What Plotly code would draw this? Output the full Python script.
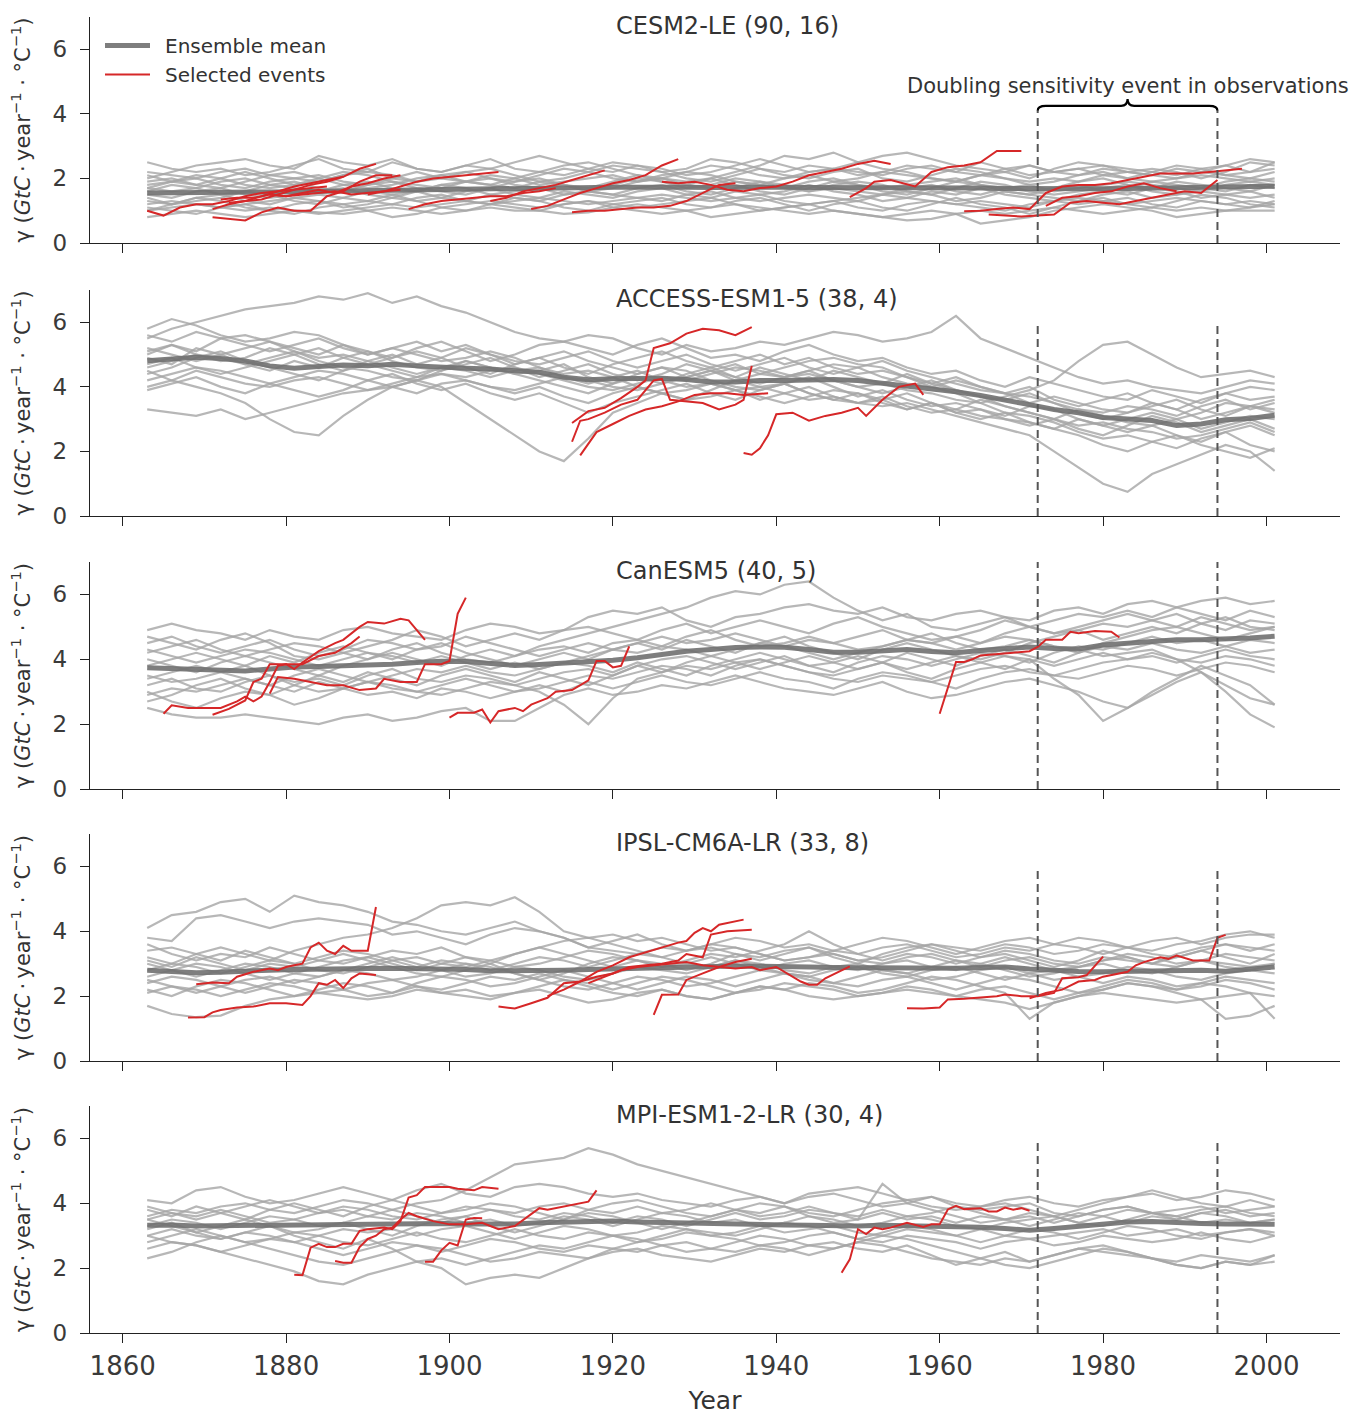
import plotly.graph_objects as go

# ---------------- data ----------------
years = list(range(1863, 2002, 3))  # sampling grid of the ensemble members

models = ["CESM2-LE", "ACCESS-ESM1-5", "CanESM5", "IPSL-CM6A-LR", "MPI-ESM1-2-LR"]
n_members = [90, 38, 40, 33, 30]
n_events = [16, 4, 5, 8, 4]
obs_event = [1972, 1994]
x_ticks = [1860, 1880, 1900, 1920, 1940, 1960, 1980, 2000]
y_ticks = [0, 2, 4, 6]

# ---- CESM2-LE ----
cesm_mean = [1.55,1.55,1.56,1.56,1.57,1.58,1.59,1.60,1.62,1.63, 1.65,1.66,1.68,1.70,1.71,1.72,1.72,1.71,1.72,1.73,
             1.73,1.74,1.73,1.72,1.73,1.74,1.73,1.72,1.72,1.73, 1.72,1.71,1.72,1.72,1.70,1.69,1.68,1.68,1.67,1.68,
             1.69,1.70,1.71,1.70,1.71,1.73,1.76]
cesm_members = [
    [2.5,2.3,2.2,2.3,2.1,2.2,2.4,2.6,2.3,2.2, 2.5,2.3,2.2,2.4,2.6,2.3,2.2,2.1,2.3,2.5, 2.4,2.2,2.3,2.6,2.5,2.3,2.2,2.4,2.3,2.1, 2.2,2.4,2.3,2.2,2.5,2.3,2.1,2.2,2.3,2.1, 2.2,2.3,2.2,2.0,2.2,2.5,2.4],
    [0.8,0.9,1.0,0.9,0.8,0.9,1.0,0.95,0.9,1.0, 1.1,1.0,0.9,1.0,1.1,1.0,1.0,0.9,0.95,1.1, 1.2,1.1,1.0,1.1,1.2,1.1,1.0,0.9,1.0,0.9, 0.8,0.7,0.75,0.9,1.0,0.9,1.0,1.1,1.0,0.9, 1.0,1.1,1.0,1.1,1.0,1.0,1.0],
    [2.2,2.1,2.0,2.2,2.3,2.1,2.0,1.9,2.1,2.3, 2.0,1.9,2.1,2.2,2.0,1.9,2.1,2.3,2.2,2.0, 1.9,2.1,2.2,2.4,2.3,2.1,2.0,2.2,2.3,2.5, 2.7,2.8,2.6,2.4,2.3,2.2,2.4,2.2,2.1,2.3, 2.2,2.1,2.3,2.2,2.1,2.2,2.3],
    [1.2,1.3,1.2,1.1,1.2,1.3,1.4,1.3,1.2,1.3, 1.2,1.4,1.5,1.3,1.2,1.3,1.4,1.3,1.2,1.3, 1.4,1.5,1.4,1.3,1.4,1.5,1.3,1.2,1.3,1.4, 1.5,1.4,1.3,1.2,1.3,1.2,1.1,1.3,1.4,1.3, 1.2,1.3,1.4,1.3,1.2,1.3,1.2],
    [1.8,1.9,2.0,1.8,1.7,1.9,2.0,2.1,1.9,1.8, 2.0,2.2,2.0,1.9,2.1,2.0,1.8,1.9,2.0,2.1, 1.9,2.0,2.2,2.1,1.9,1.8,2.0,2.1,1.9,2.0, 2.2,2.1,2.0,1.9,2.1,2.0,1.9,2.0,1.9,2.1, 2.0,1.9,2.0,2.1,2.0,1.9,2.0],
    [1.5,1.4,1.6,1.7,1.5,1.4,1.5,1.6,1.7,1.5, 1.4,1.6,1.8,1.7,1.5,1.6,1.7,1.8,1.6,1.5, 1.7,1.8,1.6,1.5,1.7,1.9,1.8,1.6,1.7,1.6, 1.5,1.7,1.8,1.6,1.5,1.7,1.6,1.5,1.6,1.7, 1.8,1.6,1.5,1.7,1.6,1.8,1.7],
    [1.0,1.1,1.2,1.1,1.0,1.1,1.0,0.9,1.0,1.1, 1.2,1.1,1.2,1.3,1.2,1.1,1.0,1.2,1.3,1.1, 1.0,0.9,1.0,0.8,0.9,1.0,1.1,1.2,1.0,0.9, 0.8,0.9,1.0,0.9,0.6,0.7,0.8,1.0,1.1,1.2, 1.1,1.0,0.8,0.9,1.0,1.1,1.2],
    [1.9,2.0,1.8,1.7,1.9,2.1,2.2,2.0,1.8,1.7, 1.8,2.0,2.1,1.9,1.8,2.0,2.2,2.4,2.5,2.3, 2.1,2.0,1.9,2.0,2.2,2.4,2.7,2.6,2.8,2.5, 2.3,2.2,2.0,1.9,2.1,2.2,2.0,2.3,2.5,2.4, 2.2,2.1,2.0,2.2,2.4,2.2,2.5],
    [1.3,1.2,1.4,1.5,1.3,1.2,1.4,1.5,1.4,1.3, 1.5,1.6,1.4,1.3,1.5,1.4,1.3,1.5,1.6,1.5, 1.4,1.3,1.5,1.6,1.4,1.3,1.4,1.5,1.4,1.3, 1.5,1.6,1.5,1.3,1.4,1.6,1.5,1.4,1.3,1.5, 1.6,1.4,1.5,1.6,1.5,1.4,1.5],
    [1.7,1.6,1.7,1.9,2.0,1.8,1.7,1.6,1.8,1.9, 1.7,1.6,1.8,1.9,1.8,1.7,1.9,1.8,1.6,1.7, 1.9,2.0,1.8,1.7,1.9,1.8,1.7,1.9,2.0,1.8, 1.7,1.8,1.9,2.0,1.8,1.7,1.8,1.6,1.7,1.8, 1.9,1.8,1.7,1.6,1.8,1.9,1.8],
    [2.0,2.2,2.4,2.5,2.6,2.4,2.3,2.7,2.5,2.4, 2.6,2.3,2.2,2.4,2.3,2.5,2.7,2.5,2.3,2.2, 2.4,2.3,2.1,2.2,2.4,2.6,2.4,2.2,2.3,2.2, 2.1,2.3,2.4,2.2,2.1,2.3,2.4,2.2,2.3,2.4, 2.3,2.2,2.1,2.3,2.4,2.6,2.5],
    [1.1,1.0,0.9,1.1,1.2,1.0,0.9,1.1,1.2,1.0, 0.8,0.9,1.1,1.2,1.3,1.2,1.1,1.2,1.3,1.2, 1.1,1.2,1.3,1.4,1.2,1.0,1.1,1.2,1.3,1.1, 1.0,1.2,1.3,1.2,1.1,1.0,1.2,1.3,1.2,1.3, 1.4,1.2,1.1,1.3,1.2,1.1,1.3],
    [1.6,1.8,1.7,1.5,1.6,1.8,1.9,1.7,1.6,1.8, 1.9,1.7,1.6,1.5,1.7,1.9,2.0,1.8,1.7,1.9, 2.1,1.9,1.7,1.8,2.0,1.9,1.7,1.6,1.8,1.9, 1.8,1.6,1.5,1.7,1.9,1.8,1.6,1.7,1.9,2.0, 1.8,1.7,1.9,1.8,1.7,1.6,1.8],
    [1.4,1.2,1.3,1.4,1.6,1.5,1.3,1.2,1.4,1.6, 1.5,1.3,1.4,1.6,1.7,1.5,1.4,1.6,1.5,1.4, 1.6,1.7,1.5,1.4,1.6,1.5,1.6,1.8,1.6,1.5, 1.3,1.4,1.6,1.5,1.7,1.5,1.4,1.3,1.5,1.6, 1.5,1.7,1.6,1.4,1.5,1.6,1.4],
    [2.1,1.9,1.8,2.0,2.2,2.0,1.8,1.9,2.1,2.2, 2.1,1.9,2.0,2.2,2.3,2.1,1.9,2.0,2.2,2.4, 2.3,2.2,2.0,1.9,2.1,2.3,2.1,2.0,2.2,2.3, 2.0,1.9,2.1,2.3,2.2,2.0,1.8,1.9,2.1,2.2, 2.0,2.2,2.4,2.3,2.1,2.0,2.2],
    [1.0,1.2,1.4,1.3,1.1,1.0,1.2,1.3,1.1,1.2, 1.4,1.3,1.1,1.0,1.2,1.4,1.3,1.1,1.0,1.2, 1.3,1.4,1.2,1.1,1.3,1.4,1.2,1.0,1.2,1.3, 1.1,1.0,1.2,1.4,1.2,1.1,0.9,1.1,1.3,1.4, 1.2,1.1,1.3,1.5,1.4,1.2,1.1],
    [1.7,1.9,2.1,2.0,1.8,1.7,1.8,2.0,2.2,2.1, 1.9,1.8,1.7,1.9,2.0,1.8,1.7,1.5,1.6,1.8, 2.0,1.9,1.8,2.0,1.8,1.6,1.5,1.7,1.9,1.8, 1.6,1.5,1.7,1.9,1.8,1.6,1.5,1.7,1.8,1.6, 1.7,1.9,1.8,1.7,1.9,2.0,1.9],
]
cesm_ev_x = [
    [1863,1865,1867,1869,1871,1873,1875,1877,1879,1881,1883,1885],
    [1871,1873,1875,1877,1879,1881,1883,1885,1887,1889,1891,1893],
    [1871,1873,1875,1877,1879,1881,1883,1885,1887],
    [1873,1875,1877,1879,1881,1883,1885,1887,1889,1891],
    [1872,1874,1876,1878,1880,1882,1884,1886,1888,1890,1892,1894],
    [1878,1880,1882,1884,1886,1888,1890,1892,1894],
    [1890,1892,1894,1896,1898,1900,1902,1904,1906],
    [1895,1897,1899,1901,1903,1905,1907,1909,1911,1913],
    [1905,1907,1909,1911,1913,1915,1917,1919],
    [1910,1912,1914,1916,1918,1920,1922,1924,1926,1928],
    [1915,1917,1919,1921,1923,1925,1927,1929,1931,1933,1935],
    [1926,1928,1930,1932,1934,1936,1938,1940,1942,1944,1946,1948,1950,1952,1954],
    [1949,1951,1952,1954,1957,1959,1961,1963,1965,1967,1970],
    [1963,1965,1967,1969,1971,1973,1975,1977,1979,1981,1983,1985,1987,1989,1991,1993,1995,1997],
    [1966,1968,1970,1972,1974,1976,1978,1980,1982,1984,1986,1988,1990,1992,1994],
    [1973,1975,1977,1979,1981,1983,1985,1987,1989],
]
cesm_ev_y = [
    [1.0,0.85,1.1,1.2,1.2,1.3,1.45,1.55,1.6,1.65,1.7,1.75],
    [0.8,0.75,0.7,0.95,1.1,1.0,1.0,1.45,1.6,1.9,2.1,2.1],
    [1.05,1.2,1.3,1.45,1.6,1.75,1.85,1.95,2.05],
    [1.25,1.3,1.35,1.5,1.65,1.8,1.9,2.05,2.3,2.45],
    [1.35,1.4,1.4,1.5,1.45,1.5,1.55,1.6,1.5,1.55,1.6,1.65],
    [1.5,1.45,1.55,1.65,1.55,1.75,1.85,2.0,2.1],
    [1.5,1.6,1.75,1.9,2.0,2.05,2.1,2.15,2.2],
    [1.05,1.2,1.3,1.35,1.4,1.45,1.45,1.55,1.6,1.7],
    [1.3,1.4,1.6,1.7,1.8,1.95,2.1,2.25],
    [1.05,1.15,1.35,1.55,1.7,1.85,1.95,2.1,2.4,2.6],
    [0.95,1.0,1.0,1.05,1.1,1.1,1.15,1.3,1.55,1.8,1.85],
    [1.9,1.85,1.9,1.8,1.65,1.6,1.7,1.75,1.9,2.1,2.2,2.3,2.45,2.55,2.45],
    [1.42,1.7,1.9,1.95,1.75,2.2,2.35,2.4,2.5,2.85,2.85],
    [0.98,1.0,1.05,1.1,1.05,1.55,1.75,1.8,1.8,1.85,1.95,2.05,2.15,2.15,2.15,2.2,2.25,2.3],
    [0.88,0.85,0.82,0.85,0.88,1.25,1.3,1.25,1.2,1.3,1.4,1.5,1.6,1.55,1.95],
    [1.15,1.4,1.45,1.55,1.6,1.75,1.85,1.7,1.6],
]

# ---- ACCESS-ESM1-5 ----
access_mean = [4.81,4.85,4.92,4.88,4.8,4.65,4.58,4.63,4.68,4.65, 4.7,4.65,4.6,4.58,4.55,4.5,4.45,4.3,4.22,4.25,
               4.27,4.27,4.23,4.15,4.15,4.2,4.2,4.22,4.23,4.2, 4.12,4.02,3.95,3.85,3.73,3.6,3.45,3.3,3.2,3.05,
               3.0,2.96,2.8,2.85,2.98,3.02,3.12]
access_members = [
    [5.5,5.8,6.0,6.2,6.4,6.5,6.6,6.8,6.7,6.9, 6.6,6.8,6.5,6.3,6.0,5.7,5.5,5.4,5.2,5.0, 5.3,5.5,5.2,4.9,5.0,4.8,5.1,5.3,5.0,4.8, 4.9,4.6,4.4,4.5,4.2,4.0,4.3,4.1,3.9,3.7, 3.6,3.9,3.7,3.5,3.8,3.6,3.7],
    [3.3,3.2,3.1,3.3,3.0,3.2,3.4,3.6,3.8,3.9, 4.0,3.8,4.1,4.2,4.0,3.9,4.1,4.3,4.2,4.0, 3.9,4.1,4.3,4.5,4.2,4.0,4.1,3.8,3.6,3.5, 3.7,3.4,3.2,3.3,3.1,3.0,2.9,2.7,2.5,2.2, 2.0,2.3,2.5,2.2,2.0,1.8,2.1],
    [4.5,4.2,4.0,3.8,3.5,3.0,2.6,2.5,3.1,3.6, 4.0,4.2,4.5,4.8,4.6,4.4,4.5,4.7,4.3,4.1, 4.4,4.6,4.5,4.2,4.0,3.9,4.1,4.3,4.0,3.7, 3.9,3.6,3.4,3.5,3.3,3.0,2.8,3.0,2.7,2.5, 2.8,3.1,2.9,2.6,2.8,3.0,2.7],
    [4.6,4.8,5.0,4.9,4.7,4.9,5.1,4.8,4.6,4.5, 4.3,4.2,4.0,3.5,3.0,2.5,2.0,1.7,2.4,3.2, 3.5,3.8,3.6,3.9,4.2,4.4,4.3,4.5,4.7,4.6, 4.3,4.1,4.0,3.8,3.5,3.2,3.1,2.9,2.6,2.4, 2.5,2.3,2.1,2.4,2.6,2.2,2.0],
    [5.0,5.3,5.1,5.5,5.6,5.4,5.2,5.0,5.3,5.1, 4.9,5.2,5.4,5.1,4.8,5.0,5.3,5.4,5.6,5.5, 5.2,5.0,5.3,5.1,5.2,5.4,5.3,5.5,5.7,5.6, 5.4,5.5,5.7,6.2,5.5,5.2,4.9,4.6,4.3,4.1, 4.2,4.0,3.9,3.8,4.0,4.2,4.1],
    [4.2,4.4,4.6,4.5,4.3,4.1,4.3,4.5,4.4,4.2, 4.0,4.2,4.4,4.3,4.5,4.6,4.4,4.2,4.0,3.9, 4.1,4.3,4.2,4.4,4.6,4.5,4.3,4.4,4.2,4.0, 4.1,3.9,3.8,3.6,3.5,3.7,3.9,4.2,4.8,5.3, 5.4,5.0,4.6,4.3,4.4,4.5,4.3],
    [5.2,5.0,4.8,5.0,5.2,5.4,5.1,4.9,5.0,4.8, 4.6,4.4,4.6,4.5,4.3,4.5,4.6,4.3,4.1,4.3, 4.5,4.2,4.0,4.1,3.9,4.0,3.8,3.6,3.7,3.5, 3.4,3.5,3.3,3.1,2.9,2.7,2.5,2.0,1.5,1.0, 0.75,1.3,1.6,1.9,2.2,2.0,1.4],
    [4.0,4.2,4.5,4.3,4.1,4.0,4.2,4.3,4.1,3.9, 4.1,4.3,4.4,4.2,4.0,3.8,4.0,3.7,3.5,3.8, 4.0,3.8,3.6,3.7,3.9,3.6,3.8,4.0,3.7,3.5, 3.6,3.8,3.5,3.3,3.6,3.4,3.2,3.0,2.8,2.9, 2.7,2.6,2.4,2.5,2.7,2.9,2.6],
    [5.6,5.4,5.7,5.5,5.3,5.1,5.3,5.5,5.2,5.0, 5.2,5.4,5.1,5.3,5.0,4.8,4.7,4.9,5.1,4.8, 4.6,4.8,5.0,4.7,4.5,4.7,4.9,4.6,4.4,4.6, 4.8,4.5,4.3,4.1,3.9,3.8,4.0,3.6,3.4,3.6, 3.8,3.5,3.3,3.6,3.8,4.0,3.9],
    [5.8,6.1,5.9,5.6,5.4,5.5,5.7,5.6,5.3,5.0, 5.2,5.0,4.8,4.9,5.1,4.9,4.6,4.4,4.5,4.3, 4.0,3.8,3.9,4.1,3.9,3.7,3.5,3.7,3.9,3.8, 3.6,3.3,3.5,3.2,3.3,3.1,3.4,3.3,3.0,2.8, 3.0,3.2,3.0,3.2,3.5,3.4,3.3],
    [4.4,4.6,4.9,5.1,4.8,4.6,4.4,4.2,4.5,4.7, 4.5,4.3,4.6,4.8,4.6,4.4,4.2,4.0,3.8,4.1, 4.3,4.1,4.4,4.6,4.3,4.1,4.3,4.5,4.2,4.0, 3.8,4.0,4.2,3.9,3.7,3.4,3.2,3.0,3.3,3.1, 2.9,2.8,3.0,2.7,2.9,3.1,3.0],
    [4.9,4.7,5.2,5.0,4.7,4.5,4.8,4.6,4.9,5.1, 4.8,4.6,4.5,4.7,4.9,4.6,4.3,4.5,4.7,4.4, 4.2,4.4,4.7,4.5,4.3,4.6,4.4,4.2,4.5,4.3, 4.1,4.4,4.1,3.9,3.7,3.6,3.8,3.5,3.3,3.2, 3.4,3.3,3.1,3.4,3.6,3.3,3.5],
    [5.1,5.3,5.0,4.8,4.9,5.2,5.0,4.7,4.5,4.8, 5.0,4.7,4.9,5.2,5.0,4.7,4.9,4.6,4.4,4.7, 4.9,5.1,4.8,4.6,4.8,5.0,4.7,4.9,4.6,4.4, 4.5,4.3,4.0,4.2,4.0,3.8,3.5,3.7,3.5,3.3, 3.2,3.4,3.6,3.3,3.1,3.4,3.6],
    [3.9,4.1,4.3,4.0,3.8,4.1,3.9,3.7,3.9,4.2, 4.4,4.1,3.9,4.1,3.8,3.6,3.8,3.5,3.2,3.5, 3.7,3.9,4.1,3.8,3.6,3.9,4.1,3.8,3.6,3.8, 3.5,3.3,3.5,3.2,3.0,3.2,2.9,2.7,3.0,2.8, 2.6,2.8,2.5,2.3,2.6,2.8,2.5],
    [4.7,4.9,4.6,4.4,4.6,4.8,5.0,5.2,4.9,4.7, 4.9,5.1,4.9,4.6,4.4,4.7,4.9,5.1,4.8,4.6, 4.4,4.6,4.3,4.5,4.7,4.4,4.6,4.8,4.9,4.7, 4.6,4.3,4.1,4.3,4.0,3.8,3.7,3.5,3.2,3.0, 3.2,3.5,3.3,3.0,3.2,3.4,3.2],
]
access_ev_x = [
    [1915,1917,1919,1921,1923,1924,1925,1927,1929,1931,1933,1935,1937],
    [1915,1916,1917,1919,1921,1923,1925,1926,1927,1929,1931,1933,1935,1936,1937],
    [1916,1918,1920,1922,1924,1926,1928,1930,1932,1934,1936,1939],
    [1936,1937,1938,1939,1940,1942,1944,1946,1948,1950,1951,1953,1955,1957,1958],
]
access_ev_y = [
    [2.88,3.25,3.35,3.65,4.0,4.2,5.2,5.35,5.65,5.8,5.75,5.6,5.85],
    [2.3,2.95,3.0,3.2,3.45,3.6,4.2,4.25,3.6,3.55,3.5,3.3,3.45,3.6,4.65],
    [1.88,2.6,2.85,3.1,3.3,3.4,3.55,3.75,3.8,3.8,3.75,3.8],
    [1.95,1.9,2.1,2.5,3.15,3.2,2.95,3.1,3.2,3.35,3.1,3.6,4.0,4.1,3.75],
]

# ---- CanESM5 ----
canesm_mean = [3.74,3.72,3.7,3.68,3.64,3.7,3.76,3.78,3.8,3.82, 3.85,3.9,3.94,3.93,3.86,3.81,3.84,3.88,3.92,3.97,
               4.05,4.15,4.25,4.3,4.36,4.38,4.37,4.3,4.22,4.22, 4.27,4.3,4.24,4.2,4.27,4.32,4.38,4.33,4.32,4.44,
               4.5,4.55,4.6,4.6,4.62,4.66,4.71]
canesm_members = [
    [4.9,5.1,4.9,4.8,4.6,4.9,4.7,4.6,4.9,5.0, 4.8,4.7,4.6,4.9,5.1,5.0,4.8,4.9,5.3,5.5, 5.4,5.6,5.2,5.0,5.3,5.4,5.6,5.7,5.5,5.4, 5.6,5.3,5.2,5.4,5.5,5.3,5.2,5.5,5.6,5.4, 5.7,5.8,5.6,5.8,5.9,5.7,5.8],
    [2.5,2.3,2.2,2.2,2.3,2.2,2.1,2.0,2.2,2.3, 2.1,2.2,2.4,2.5,2.1,2.1,2.5,2.9,3.1,2.9, 3.0,3.2,3.1,3.3,3.5,3.3,3.1,3.0,2.9,3.1, 3.3,3.0,2.8,2.9,3.1,3.3,3.4,3.2,3.0,2.7, 2.5,2.9,3.3,3.6,3.2,2.8,2.6],
    [3.0,2.7,2.5,2.8,3.0,2.9,2.6,2.8,3.1,3.3, 3.2,3.0,2.9,3.1,3.3,3.2,3.0,2.6,2.0,2.8, 3.4,3.6,3.8,3.7,3.9,4.0,3.8,3.6,3.5,3.7, 3.9,3.6,3.4,3.7,3.9,4.1,4.0,3.4,2.9,2.1, 2.5,3.0,3.4,3.8,3.5,3.2,2.6],
    [4.2,4.4,4.6,4.3,4.1,4.3,4.5,4.4,4.2,4.0, 4.3,4.5,4.2,4.0,3.9,4.1,4.3,4.4,4.2,4.5, 4.6,4.4,4.7,4.9,4.6,4.4,4.5,4.7,4.5,4.3, 4.4,4.6,4.8,4.5,4.3,4.4,4.6,4.4,4.3,4.1, 4.2,4.3,4.0,3.6,3.0,2.3,1.9],
    [4.0,3.8,3.6,3.9,4.1,3.9,3.7,3.5,3.8,4.0, 4.2,4.0,3.8,4.1,4.3,4.1,4.4,4.6,4.8,5.0, 5.2,5.4,5.6,5.9,6.1,6.0,6.3,6.4,5.9,5.5, 5.2,5.4,5.0,4.9,5.1,5.3,5.0,4.8,5.0,5.2, 5.4,5.2,5.0,5.3,5.1,4.9,5.0],
    [3.5,3.3,3.4,3.6,3.8,3.5,3.3,3.4,3.2,3.5, 3.7,3.4,3.3,3.5,3.4,3.2,3.4,3.6,3.7,3.5, 3.8,4.0,4.1,3.9,3.7,3.9,4.1,3.8,3.6,3.9, 4.1,4.0,3.8,4.0,4.2,4.1,3.9,4.2,4.4,4.3, 4.5,4.7,4.5,4.6,4.4,4.6,4.5],
    [4.5,4.7,4.4,4.2,4.4,4.6,4.3,4.1,4.3,4.6, 4.5,4.3,4.4,4.7,4.5,4.3,4.1,4.3,4.5,4.3, 4.5,4.7,4.5,4.6,4.8,4.6,4.4,4.6,4.5,4.7, 4.9,4.6,4.5,4.7,4.9,5.2,5.0,4.8,4.9,5.1, 5.0,5.2,5.4,5.1,4.9,5.2,5.1],
    [3.2,3.4,3.1,3.0,3.3,3.5,3.2,3.0,3.1,3.3, 3.1,3.0,3.2,3.4,3.2,3.0,3.1,3.3,3.5,3.4, 3.6,3.8,3.7,3.5,3.8,4.0,3.8,3.6,3.4,3.3, 3.5,3.4,3.3,3.5,3.7,3.8,3.6,3.5,3.7,3.9, 4.0,4.2,4.0,3.9,4.1,4.0,3.8],
    [3.8,4.0,4.2,4.0,3.8,4.1,3.9,4.2,4.4,4.2, 4.0,4.3,4.5,4.2,4.0,3.8,4.0,4.2,4.0,4.3, 4.5,4.3,4.6,4.4,4.2,4.5,4.7,4.4,4.2,4.0, 4.3,4.5,4.3,4.1,4.0,4.2,4.5,4.7,4.9,4.6, 4.8,5.0,4.8,5.1,5.3,5.0,4.9],
    [2.7,2.9,3.2,3.4,3.1,2.9,3.2,3.5,3.3,3.6, 3.4,3.2,3.5,3.7,3.5,3.3,3.6,3.4,3.2,3.5, 3.8,3.6,3.9,4.1,3.9,3.7,3.9,4.1,3.9,3.7, 3.9,4.2,4.0,3.8,4.1,4.3,4.1,3.9,4.2,4.4, 4.3,4.5,4.3,4.2,4.4,4.2,4.3],
    [4.7,4.5,4.3,4.6,4.8,4.5,4.1,4.0,4.2,4.4, 4.6,4.9,4.7,4.4,4.6,4.8,4.6,4.9,5.0,4.8, 4.6,4.9,5.1,4.8,5.0,5.2,5.0,4.8,5.1,5.3, 5.0,4.8,4.6,4.7,4.5,4.8,5.0,5.2,5.4,5.3, 5.5,5.3,5.6,5.4,5.2,5.5,5.3],
    [4.3,4.1,3.9,4.1,4.3,4.2,4.0,3.8,4.0,4.2, 4.1,3.9,4.1,3.9,3.7,3.9,3.7,3.9,4.1,4.3, 4.2,4.4,4.3,4.1,4.3,4.5,4.4,4.2,4.0,4.2, 4.4,4.6,4.5,4.3,4.5,4.7,4.6,4.4,4.2,4.5, 4.7,4.9,5.0,4.8,4.6,4.8,5.0],
    [3.4,3.6,3.8,3.6,3.4,3.2,3.5,3.7,3.5,3.3, 3.5,3.7,3.6,3.8,3.6,3.5,3.7,3.9,3.8,3.6, 3.9,3.7,3.5,3.8,4.0,4.2,4.0,3.8,3.9,4.1, 3.9,3.7,3.9,4.1,3.9,3.7,4.0,3.8,4.0,4.2, 4.0,4.1,3.9,4.1,4.3,4.1,4.0],
    [2.9,3.1,3.0,3.2,3.4,3.2,3.0,3.3,3.1,2.9, 3.0,2.8,3.1,3.0,2.8,3.0,3.2,3.0,3.3,3.1, 3.3,3.5,3.3,3.2,3.4,3.6,3.4,3.3,3.1,3.4, 3.6,3.5,3.3,3.1,3.4,3.6,3.7,3.5,3.4,3.6, 3.8,3.7,3.5,3.7,3.9,3.8,3.6],
]
canesm_ev_x = [
    [1865,1866,1868,1870,1872,1874,1875,1876,1877,1878,1879,1880,1881,1882,1884,1886,1887,1889,1890,1892,1894,1895,1897],
    [1871,1873,1875,1876,1877,1878,1880,1882,1884,1886,1888,1889],
    [1878,1879,1881,1883,1885,1887,1889,1891,1892,1894,1896,1897,1899,1900,1901,1902],
    [1900,1901,1903,1904,1905,1906,1908,1909,1910,1912,1913,1915,1917,1918,1919,1920,1921,1922],
    [1960,1962,1963,1964,1965,1967,1969,1971,1972,1973,1975,1976,1977,1979,1981,1982],
]
canesm_ev_y = [
    [2.32,2.58,2.5,2.5,2.5,2.7,2.85,2.7,2.85,3.3,3.8,3.85,3.7,3.9,4.25,4.5,4.6,5.0,5.15,5.1,5.25,5.2,4.6],
    [2.29,2.47,2.73,3.3,3.4,3.85,3.85,3.85,4.1,4.2,4.5,4.7],
    [2.94,3.45,3.4,3.3,3.2,3.2,3.05,3.1,3.4,3.3,3.3,3.85,3.85,3.95,5.4,5.9],
    [2.2,2.35,2.35,2.45,2.05,2.4,2.5,2.4,2.6,2.8,3.0,3.05,3.35,3.95,3.95,3.75,3.8,4.4],
    [2.32,3.92,3.92,4.0,4.12,4.15,4.2,4.25,4.38,4.6,4.6,4.85,4.8,4.87,4.85,4.67],
]

# ---- IPSL-CM6A-LR ----
ipsl_mean = [2.8,2.76,2.72,2.74,2.78,2.8,2.82,2.82,2.84,2.85, 2.86,2.85,2.85,2.82,2.78,2.78,2.8,2.8,2.82,2.84,
             2.86,2.9,2.92,2.93,2.93,2.92,2.92,2.9,2.88,2.87, 2.86,2.85,2.85,2.86,2.88,2.9,2.84,2.79,2.76,2.75,
             2.76,2.78,2.79,2.8,2.77,2.85,2.9]
ipsl_members = [
    [4.1,4.5,4.6,4.9,5.0,4.6,5.1,4.9,4.8,4.6, 4.3,4.2,4.0,3.9,4.1,4.3,4.0,3.8,3.5,3.7, 3.9,3.6,3.4,3.5,3.3,3.2,3.4,3.5,3.3,3.1, 3.2,3.4,3.6,3.5,3.4,3.6,3.5,3.3,3.4,3.6, 3.5,3.3,3.2,3.4,3.6,3.5,3.4],
    [3.8,3.7,4.4,4.5,4.3,4.1,4.3,4.4,4.3,4.2, 3.9,4.0,3.8,3.6,3.9,4.1,4.0,3.8,3.5,3.4, 3.3,3.5,3.4,3.6,3.5,3.3,3.1,3.2,3.3,3.1, 3.0,3.2,3.3,3.1,2.9,3.1,3.2,3.0,2.9,3.1, 3.3,3.2,3.0,3.1,3.3,3.2,3.1],
    [1.7,1.45,1.35,1.4,1.7,1.9,2.0,2.1,2.0,1.9, 2.0,2.2,2.1,2.0,1.9,2.1,2.2,2.0,1.8,1.9, 2.1,2.2,2.0,1.9,2.1,2.3,2.2,2.0,1.9,2.0, 2.1,2.2,2.1,2.0,1.9,1.8,1.6,1.8,2.0,2.1, 2.0,1.9,1.8,1.9,2.0,2.1,2.0],
    [3.2,3.0,3.3,3.5,3.3,3.1,3.4,3.6,3.8,3.9, 4.1,4.4,4.8,4.9,4.8,5.05,4.6,4.0,3.8,3.9, 3.7,3.8,3.6,3.4,3.5,3.3,3.1,3.2,3.4,3.3, 3.5,3.6,3.4,3.2,3.3,3.5,3.4,3.6,3.8,3.7, 3.5,3.4,3.6,3.7,3.9,4.0,3.8],
    [2.1,2.3,2.2,2.0,2.2,2.4,2.3,2.1,2.2,2.4, 2.5,2.3,2.1,2.2,2.0,2.1,2.3,2.5,2.4,2.2, 2.4,2.6,2.5,2.3,2.1,2.2,2.4,2.3,2.2,2.0, 2.1,2.3,2.2,2.0,2.2,2.3,2.1,1.9,2.1,2.2, 2.4,2.3,2.1,1.9,1.3,1.4,1.7],
    [2.8,3.0,2.9,2.7,2.9,3.1,3.0,2.8,2.7,2.9, 3.1,3.2,3.0,2.9,3.1,3.3,3.5,3.7,3.8,3.6, 3.4,3.2,3.0,2.9,3.1,3.0,2.8,2.7,2.9,3.0, 2.8,2.7,2.9,3.1,3.0,2.8,2.6,2.7,2.9,3.0, 2.8,2.7,2.9,3.1,3.0,2.9,3.0],
    [3.4,3.5,3.3,3.1,3.4,3.2,3.0,3.2,3.4,3.3, 3.1,2.9,3.1,3.0,2.8,3.0,3.2,3.1,2.9,3.1, 3.3,3.2,3.4,3.6,3.8,3.7,3.5,3.6,3.4,3.6, 3.8,3.7,3.5,3.3,3.5,3.7,3.8,3.6,3.5,3.3, 3.5,3.7,3.8,3.6,3.8,3.9,3.9],
    [2.4,2.6,2.5,2.3,2.1,2.3,2.5,2.4,2.2,2.0, 2.1,2.3,2.2,2.4,2.6,2.5,2.7,2.5,2.3,2.1, 2.0,2.2,2.0,1.9,2.1,2.3,2.2,2.4,2.3,2.1, 2.2,2.4,2.6,2.5,2.3,2.1,1.3,1.8,2.0,2.2, 2.4,2.3,2.2,2.4,2.3,2.1,1.3],
    [3.0,2.8,2.6,2.8,3.0,2.9,2.7,2.6,2.8,3.0, 3.2,3.0,2.8,2.6,2.7,2.9,2.8,2.6,2.5,2.7, 2.9,2.8,2.7,2.9,3.1,2.9,2.7,2.6,2.8,2.9, 2.7,2.6,2.8,2.9,2.7,2.5,2.7,2.8,2.6,2.7, 2.9,2.8,2.6,2.5,2.7,2.8,2.7],
    [2.5,2.3,2.1,2.3,2.5,2.6,2.4,2.6,2.8,2.7, 2.5,2.6,2.8,3.0,2.9,2.7,2.5,2.3,2.2,2.4, 2.6,2.5,2.3,2.4,2.6,2.8,2.7,2.5,2.4,2.6, 2.8,2.7,2.5,2.6,2.8,2.9,2.7,2.5,2.6,2.4, 2.6,2.5,2.3,2.4,2.6,2.5,2.4],
    [3.1,2.9,3.2,3.0,2.8,3.0,2.9,3.1,3.3,3.1, 2.9,2.7,2.6,2.8,3.0,2.7,2.5,2.7,3.0,3.2, 3.1,2.9,3.1,3.3,3.2,3.4,3.6,4.0,3.6,3.3, 3.1,3.3,3.2,3.0,3.2,3.4,3.3,3.1,3.0,3.2, 3.1,3.0,3.2,3.4,3.2,3.0,3.3],
    [2.6,2.8,3.0,2.9,2.7,2.5,2.7,2.9,3.1,3.2, 3.0,2.8,3.0,3.2,3.1,2.9,3.0,3.2,3.4,3.3, 3.1,2.9,3.0,3.2,3.0,2.8,3.0,3.1,2.9,2.8, 3.0,3.1,2.9,2.8,3.0,3.2,3.0,2.8,2.9,3.1, 3.2,3.0,2.9,3.1,2.9,2.8,3.0],
    [2.2,2.0,2.3,2.5,2.4,2.2,2.0,2.2,2.4,2.3, 2.1,2.4,2.6,2.5,2.3,2.4,2.6,2.8,2.6,2.4, 2.2,2.4,2.6,2.5,2.3,2.5,2.7,2.6,2.4,2.3, 2.5,2.6,2.4,2.2,2.4,2.6,2.5,2.3,2.1,2.3, 2.5,2.4,2.2,2.3,2.5,2.4,2.2],
    [3.6,3.3,3.1,3.3,3.2,3.5,3.3,3.1,3.0,3.2, 3.4,3.3,3.5,3.2,3.0,3.3,3.5,3.3,3.1,2.9, 3.1,3.0,2.8,3.0,3.3,3.1,3.3,3.5,3.2,3.0, 3.3,3.5,3.6,3.4,3.2,3.3,3.1,2.9,3.1,3.4, 3.2,3.0,3.3,3.5,3.6,3.4,3.6],
]
ipsl_ev_x = [
    [1869,1871,1873,1874,1876,1878,1879,1880,1881,1882,1883,1884,1885,1886,1887,1888,1890,1891],
    [1868,1870,1871,1872,1874,1876,1878,1880,1882,1883,1884,1885,1886,1887,1888,1889,1891],
    [1906,1908,1910,1912,1914,1916,1918,1920,1922,1924,1926,1928,1929,1930,1931,1932,1933,1935,1936],
    [1912,1914,1916,1918,1920,1922,1924,1926,1928,1929,1931,1932,1934,1937],
    [1925,1926,1928,1929,1931,1933,1935,1937],
    [1917,1919,1921,1923,1925,1927,1929,1931,1933,1935,1937,1938,1940,1941,1943,1944,1945,1946,1948,1949],
    [1956,1958,1960,1961,1963,1965,1967,1968,1970,1972,1973,1974,1975,1977,1978,1979,1980],
    [1971,1973,1975,1977,1979,1980,1983,1984,1985,1987,1988,1989,1991,1993,1994,1995],
]
ipsl_ev_y = [
    [2.37,2.42,2.4,2.6,2.75,2.85,2.8,2.9,2.95,3.0,3.5,3.65,3.4,3.3,3.55,3.4,3.4,4.75],
    [1.34,1.35,1.5,1.57,1.65,1.68,1.78,1.78,1.73,2.0,2.4,2.35,2.5,2.25,2.55,2.7,2.65],
    [1.68,1.62,1.78,1.95,2.4,2.45,2.75,2.95,3.2,3.35,3.5,3.65,3.7,3.95,4.1,4.0,4.2,4.3,4.36],
    [2.0,2.2,2.45,2.6,2.7,2.9,2.95,3.0,3.1,3.3,3.2,3.9,4.0,4.05],
    [1.42,2.04,2.05,2.5,2.7,2.9,3.05,3.15],
    [2.4,2.6,2.8,2.9,2.95,3.0,3.05,2.95,2.9,2.85,2.9,2.8,2.9,2.75,2.45,2.35,2.35,2.55,2.8,2.92],
    [1.63,1.62,1.65,1.9,1.92,1.95,2.0,2.05,2.0,2.0,2.05,2.1,2.55,2.58,2.65,2.95,3.22],
    [1.93,2.1,2.2,2.45,2.5,2.6,2.75,2.95,3.05,3.2,3.15,3.25,3.1,3.1,3.8,3.89],
]

# ---- MPI-ESM1-2-LR ----
mpi_mean = [3.32,3.33,3.3,3.31,3.3,3.32,3.33,3.34,3.36,3.38, 3.37,3.38,3.38,3.36,3.35,3.36,3.4,3.42,3.44,3.45,
            3.42,3.4,3.38,3.37,3.35,3.34,3.33,3.32,3.3,3.3, 3.32,3.31,3.3,3.28,3.26,3.22,3.17,3.22,3.28,3.35,
            3.42,3.44,3.4,3.38,3.36,3.35,3.35]
mpi_members = [
    [3.6,3.8,3.7,3.9,4.0,3.8,3.7,3.9,4.1,4.0, 3.8,4.0,4.1,4.4,4.8,5.2,5.3,5.4,5.7,5.5, 5.2,5.0,4.8,4.6,4.4,4.2,4.0,4.2,4.3,4.1, 3.9,4.0,4.2,3.9,3.8,3.9,4.0,3.7,3.6,3.8, 3.9,3.7,3.6,3.8,3.9,3.7,3.6],
    [3.0,2.8,2.7,2.5,2.3,2.1,1.9,1.6,1.5,1.8, 2.0,2.2,2.3,2.1,2.3,2.5,2.7,2.6,2.8,3.0, 2.9,2.7,2.5,2.6,2.8,3.0,2.9,2.7,2.6,2.8, 3.0,2.9,2.7,2.5,2.3,2.1,2.0,2.2,2.4,2.6, 2.5,2.3,2.1,2.0,2.2,2.1,2.4],
    [3.5,3.3,3.1,2.9,3.1,3.3,3.0,2.8,2.6,2.9, 2.6,2.2,2.0,1.5,1.7,1.8,1.7,2.0,2.3,2.6, 2.8,3.0,3.2,3.1,3.0,3.2,3.4,3.3,3.1,2.9, 3.1,3.3,3.2,3.0,2.8,3.0,3.2,3.1,2.9,3.1, 3.3,3.2,3.0,2.9,3.1,3.2,3.0],
    [4.1,4.0,4.4,4.5,4.2,4.0,4.1,4.3,4.5,4.3, 4.1,4.4,4.6,4.3,4.2,4.5,4.6,4.5,4.3,4.2, 4.3,4.1,4.0,3.9,4.1,4.2,4.0,4.3,4.4,4.5, 4.3,4.1,4.2,4.0,3.9,4.1,4.2,4.0,3.9,4.1, 4.2,4.3,4.1,4.2,4.4,4.3,4.1],
    [2.3,2.5,2.8,3.0,2.8,2.6,2.4,2.2,2.1,2.3, 2.5,2.7,2.6,2.4,2.2,2.3,2.5,2.4,2.3,2.5, 2.6,2.4,2.3,2.2,2.4,2.6,2.5,2.7,2.8,2.6, 2.5,2.7,2.4,2.1,2.3,2.5,2.2,2.4,2.6,2.7, 2.5,2.3,2.2,2.4,2.3,2.2,2.4],
    [3.3,3.5,3.4,3.2,3.4,3.6,3.5,3.3,3.4,3.6, 3.5,3.7,3.6,3.4,3.5,3.3,3.4,3.6,3.5,3.3, 3.5,3.7,3.6,3.4,3.5,3.3,3.4,3.6,3.5,3.3, 3.4,3.6,3.5,3.3,3.2,3.4,3.5,3.6,3.4,3.3, 3.5,3.7,3.6,3.4,3.5,3.4,3.5],
    [2.8,3.0,3.2,3.0,2.8,2.9,3.1,3.0,2.8,2.7, 2.9,3.1,2.9,2.8,3.0,3.2,3.0,2.9,3.1,3.0, 2.8,2.9,3.1,3.0,2.9,2.7,2.8,3.0,3.1,2.9, 2.8,3.0,2.9,2.8,2.6,2.8,2.9,2.7,2.8,3.0, 2.9,2.8,2.9,3.1,2.9,2.8,3.0],
    [3.8,3.6,3.9,3.7,3.5,3.8,4.0,3.8,3.6,3.9, 4.1,3.9,3.7,3.8,4.0,3.9,3.7,3.5,3.8,4.0, 4.1,3.9,3.7,3.6,3.8,4.0,3.9,3.7,3.6,3.8, 4.0,4.1,3.9,3.8,3.9,4.0,3.8,3.6,3.8,4.0, 4.2,4.4,4.2,4.0,3.9,4.1,3.9],
    [2.6,2.8,2.7,2.5,2.7,2.9,2.8,2.6,2.4,2.6, 2.8,2.7,2.5,2.7,2.9,2.8,2.6,2.5,2.7,2.6, 2.5,2.7,2.8,2.6,2.5,2.7,2.6,2.4,2.6,2.8, 2.7,2.5,2.3,2.2,2.1,2.3,2.2,2.4,2.6,2.5, 2.4,2.3,2.1,2.0,2.2,2.1,2.2],
    [3.2,3.4,3.1,3.3,3.5,3.3,3.1,3.2,3.4,3.2, 3.0,3.3,3.5,3.6,3.3,3.1,3.3,3.5,3.7,3.6, 3.4,3.2,3.4,3.6,3.8,3.7,3.9,3.6,3.4,3.5, 4.6,4.0,3.8,3.6,3.4,3.5,3.7,3.6,3.4,3.6, 3.8,3.7,3.5,3.7,3.8,3.6,3.7],
    [3.9,3.7,3.5,3.7,3.9,4.1,3.9,3.7,3.8,3.6, 3.8,3.6,3.4,3.6,3.8,3.7,3.9,4.0,3.8,3.7, 3.9,3.7,3.8,4.0,3.8,3.6,3.7,3.9,3.7,3.6, 3.8,3.6,3.7,3.9,3.7,3.5,3.6,3.4,3.6,3.8, 3.9,3.7,3.8,3.9,3.7,3.8,3.9],
    [3.0,3.2,3.0,2.9,3.1,3.0,2.8,3.0,3.2,3.1, 3.2,3.0,3.2,3.3,3.1,2.9,3.1,3.3,3.2,3.0, 3.1,3.3,3.2,3.0,3.1,3.3,3.1,3.2,3.3,3.1, 3.0,3.2,3.1,3.0,3.2,3.0,2.9,3.0,3.1,3.2, 3.0,3.1,3.2,3.0,3.1,3.2,3.1],
    [3.5,3.7,3.6,3.8,3.6,3.4,3.5,3.7,3.9,3.8, 3.6,3.5,3.7,3.9,3.8,3.6,3.5,3.7,3.6,3.4, 3.6,3.5,3.3,3.5,3.7,3.5,3.6,3.8,3.7,3.5, 3.7,3.5,3.6,3.4,3.6,3.5,3.3,3.5,3.7,3.6, 3.4,3.6,3.5,3.7,3.6,3.4,3.5],
]
mpi_ev_x = [
    [1881,1882,1883,1884,1885,1886,1887,1888,1889,1890,1892,1893,1894,1895,1896,1897,1899,1900,1901,1903,1904,1906],
    [1886,1887,1888,1889,1890,1891,1892,1893,1894,1895,1896,1898,1900,1902,1904,1905,1906,1908,1910,1911,1912,1914,1916,1917,1918],
    [1897,1898,1899,1900,1901,1902,1903,1904],
    [1948,1949,1950,1951,1952,1953,1954,1956,1958,1959,1960,1961,1962,1963,1965,1966,1967,1968,1969,1970,1971],
]
mpi_ev_y = [
    [1.8,1.78,2.63,2.75,2.65,2.65,2.75,2.75,3.15,3.2,3.25,3.2,3.45,4.18,4.25,4.5,4.5,4.5,4.45,4.4,4.5,4.45],
    [2.22,2.17,2.17,2.65,2.9,3.0,3.2,3.25,3.5,3.7,3.6,3.45,3.35,3.35,3.4,3.3,3.2,3.3,3.65,3.85,3.8,3.9,4.0,4.05,4.4],
    [2.2,2.2,2.55,2.78,2.7,3.5,3.55,3.54],
    [1.86,2.27,3.2,3.05,3.25,3.2,3.25,3.4,3.27,3.35,3.35,3.81,3.92,3.82,3.85,3.75,3.75,3.87,3.8,3.85,3.77],
]

all_means = [cesm_mean, access_mean, canesm_mean, ipsl_mean, mpi_mean]
all_members = [cesm_members, access_members, canesm_members, ipsl_members, mpi_members]
all_ev_x = [cesm_ev_x, access_ev_x, canesm_ev_x, ipsl_ev_x, mpi_ev_x]
all_ev_y = [cesm_ev_y, access_ev_y, canesm_ev_y, ipsl_ev_y, mpi_ev_y]

# ---------------- styles ----------------
GRAY = "rgba(165,165,165,0.8)"
MEAN = "rgba(112,112,112,0.9)"
RED = "#d62728"
TXT = "#333333"
AX = "#222222"
FONT = "DejaVu Sans"

W, H = 1354, 1415
ML, MR, MT, MB = 90, 14, 17, 82
PW = W - ML - MR
PH = H - MT - MB
panel_px = [(17, 243), (290, 516), (562, 789), (834, 1061), (1106, 1333)]
dash_top = [4.1, 6, 7, 6, 6]

fig = go.Figure()

for i in range(5):
    xr = "x" if i == 0 else f"x{i+1}"
    yr = "y" if i == 0 else f"y{i+1}"
    for mem in all_members[i]:
        fig.add_trace(go.Scatter(x=years[:len(mem)], y=mem, mode="lines",
                                 line=dict(color=GRAY, width=2.2), xaxis=xr, yaxis=yr,
                                 showlegend=False, hoverinfo="skip"))
    m = all_means[i]
    fig.add_trace(go.Scatter(x=years[:len(m)], y=m, mode="lines",
                             line=dict(color=MEAN, width=5), xaxis=xr, yaxis=yr,
                             name="\u2002Ensemble mean", showlegend=(i == 0), legendrank=1))
    for j, (ex, ey) in enumerate(zip(all_ev_x[i], all_ev_y[i])):
        fig.add_trace(go.Scatter(x=ex, y=ey, mode="lines",
                                 line=dict(color=RED, width=2), xaxis=xr, yaxis=yr,
                                 name="\u2002Selected events", showlegend=(i == 0 and j == 0),
                                 legendrank=2))

    t, b = panel_px[i]
    dom = [(H - MB - b) / PH, (H - MB - t) / PH]
    dom = [max(0.0, min(1.0, d)) for d in dom]
    xa = dict(domain=[0, 1], anchor=yr, range=[1856, 2009], tickvals=x_ticks,
              ticks="outside", ticklen=9, tickwidth=1.3, tickcolor=AX, automargin=False,
              showline=True, linecolor=AX, linewidth=1.3, showgrid=False, zeroline=False,
              showticklabels=(i == 4), tickfont=dict(size=26, color="#3a3a3a", family=FONT),
              ticklabelstandoff=1)
    if i == 4:
        xa["title"] = dict(text="Year", font=dict(size=25, color=TXT, family=FONT), standoff=14)
    ya = dict(domain=dom, anchor=xr, range=[0, 7], tickvals=y_ticks, automargin=False,
              ticks="outside", ticklen=9, tickwidth=1.3, tickcolor=AX,
              showline=True, linecolor=AX, linewidth=1.3, showgrid=False, zeroline=False,
              tickfont=dict(size=23, color="#3a3a3a", family=FONT), ticklabelstandoff=8,
              title=dict(text="γ (<i>GtC</i>\u2009·\u2009year<sup>−1</sup> · °C<sup>−1</sup>)",
                         font=dict(size=21, color=TXT, family=FONT), standoff=16))
    fig.update_layout(**{("xaxis" if i == 0 else f"xaxis{i+1}"): xa,
                         ("yaxis" if i == 0 else f"yaxis{i+1}"): ya})

    # panel title
    fig.add_annotation(text=f"{models[i]} ({n_members[i]}, {n_events[i]})",
                       xref=f"{xr} domain", yref=f"{yr} domain", x=(614 - ML) / PW, y=1,
                       xanchor="left", yanchor="top", yshift=7, showarrow=False,
                       font=dict(size=24, color=TXT, family=FONT))
    # observed doubling-sensitivity window
    for yrv in obs_event:
        fig.add_shape(type="line", xref=xr, yref=yr, x0=yrv, x1=yrv, y0=0, y1=dash_top[i],
                      line=dict(color="#555555", width=2, dash="8px,5px"), layer="above")

# brace + label in the first panel
a, b = obs_event
c = (a + b) / 2
brace = (f"M{a},4.1 Q{a},4.25 {a+1},4.25 L{c-0.8},4.25 Q{c},4.25 {c},4.46 "
         f"Q{c},4.25 {c+0.8},4.25 L{b-1},4.25 Q{b},4.25 {b},4.1")
fig.add_shape(type="path", path=brace, xref="x", yref="y",
              line=dict(color="black", width=2.2), layer="above")
fig.add_annotation(text="Doubling sensitivity event in observations", x=(1351 - ML) / PW, y=4.85,
                   xref="paper", yref="y", showarrow=False, xanchor="right", yanchor="middle",
                   font=dict(size=21, color=TXT, family=FONT))

fig.update_layout(
    width=W, height=H, margin=dict(l=ML, r=MR, t=MT, b=MB, autoexpand=False),
    plot_bgcolor="white", paper_bgcolor="white",
    font=dict(family=FONT, color=TXT),
    showlegend=True,
    legend=dict(x=0.008, y=(H - MB - 26) / PH, xanchor="left", yanchor="top",
                bgcolor="rgba(0,0,0,0)", font=dict(size=20, color=TXT, family=FONT),
                itemwidth=45, tracegroupgap=0),
)

fig.write_html("out.html", config={"displayModeBar": False},
               post_script="document.body.style.margin='0';document.body.style.overflow='hidden';")
